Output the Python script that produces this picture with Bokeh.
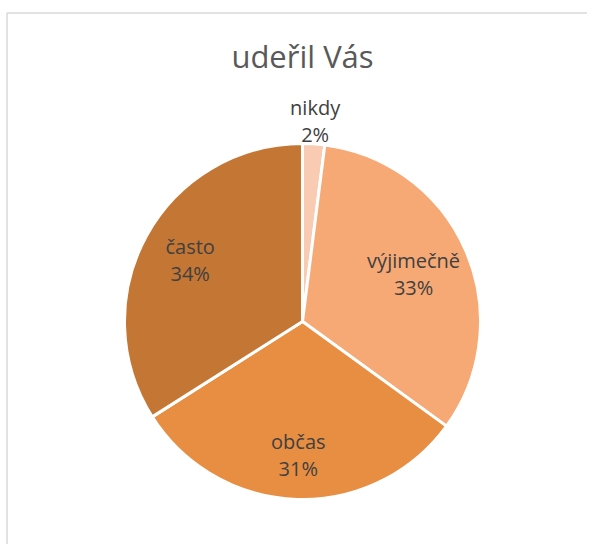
import math
from bokeh.plotting import figure
from bokeh.models import Range1d, ColumnDataSource
from bokeh.core.properties import value
from bokeh.embed import file_html
from bokeh.resources import INLINE

# ---- data ----
title_text = "udeřil Vás"
categories = ["nikdy", "výjimečně", "občas", "často"]
values = [2, 33, 31, 34]
colors = ["#F8CBB2", "#F6A975", "#E88E42", "#C47634"]

# ---- layout (picture pixels) ----
W, H = 587, 544
left_px, top_px = 0, 0
cx_page, cy_page = 302, 321
radius = 178
label_r = [1.13, 0.68, 0.75, 0.72]

def X(px):
    return px
def Y(py):
    return (top_px + H) - py

total = sum(values)
fracs = [v / total for v in values]
starts, ends, cum = [], [], 0.0
for f in fracs:
    # clockwise from 12 o'clock
    ends.append(math.pi / 2 - 2 * math.pi * cum)
    cum += f
    starts.append(math.pi / 2 - 2 * math.pi * cum)
mids = [(s + e) / 2 for s, e in zip(starts, ends)]
pcts = [f"{round(f * 100)}%" for f in fracs]
lx = [X(cx_page) + radius * r * math.cos(m) for m, r in zip(mids, label_r)]
ly = [Y(cy_page) + radius * r * math.sin(m) for m, r in zip(mids, label_r)]

src = ColumnDataSource(dict(cat=categories, val=values, color=colors,
                            start=starts, end=ends, pct=pcts, lx=lx, ly=ly))

p = figure(width=W, height=H, output_backend="svg", toolbar_location=None,
           x_range=Range1d(left_px, left_px + W), y_range=Range1d(0, H),
           min_border=0, outline_line_color=None)
p.axis.visible = False
p.grid.visible = False
p.background_fill_color = "white"
p.border_fill_color = "white"

# chart frame (light grey, extends beyond the window on right/bottom)
p.line(x=[X(6.5), X(6.5), X(600)], y=[Y(600), Y(12.5), Y(12.5)],
       line_color="#D9D9D9", line_width=1.5)

p.wedge(x=X(cx_page), y=Y(cy_page), radius=radius, start_angle="start",
        end_angle="end", fill_color="color", line_color="white", line_width=3,
        source=src)

p.text(x="lx", y="ly", text="cat", source=src, text_font=value("Open Sans"),
       text_font_size="20px", text_color="#404040", text_align="center",
       text_baseline="middle", y_offset=-13)
p.text(x="lx", y="ly", text="pct", source=src, text_font=value("Open Sans"),
       text_font_size="20px", text_color="#404040", text_align="center",
       text_baseline="middle", y_offset=14)

p.text(x=[X(302)], y=[Y(55)], text=[title_text], text_font=value("Open Sans"),
       text_font_size="31px", text_color="#595959", text_align="center",
       text_baseline="middle")

open("out.html", "w").write(file_html(p, INLINE))
